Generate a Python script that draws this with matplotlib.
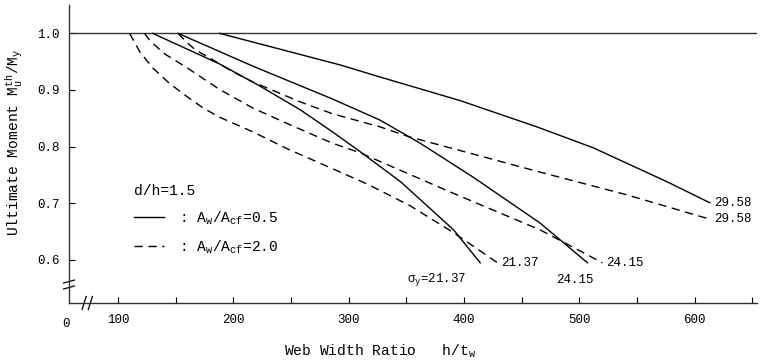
import numpy as np
import matplotlib
matplotlib.use("Agg")
import matplotlib.pyplot as plt
from matplotlib.lines import Line2D

plt.rcParams['font.family'] = ['Liberation Mono', 'DejaVu Sans Mono']
plt.rcParams['mathtext.fontset'] = 'custom'
plt.rcParams['mathtext.rm'] = 'Liberation Mono'
plt.rcParams['mathtext.it'] = 'Liberation Mono'
plt.rcParams['mathtext.default'] = 'regular'

# yield stress labels
sigma = ["21.37", "24.15", "29.58"]

# Aw/Acf = 0.5 (solid)
x_s_2137 = [130, 188, 223, 258, 286, 310, 345, 391, 414]
y_s_2137 = [1.0, 0.946, 0.907, 0.865, 0.826, 0.791, 0.738, 0.653, 0.595]
x_s_2415 = [152, 217, 286, 327, 362, 408, 466, 507]
y_s_2415 = [1.0, 0.942, 0.884, 0.847, 0.806, 0.746, 0.665, 0.595]
x_s_2958 = [188, 293, 327, 397, 463, 512, 544, 576, 613]
y_s_2958 = [1.0, 0.944, 0.923, 0.881, 0.835, 0.798, 0.768, 0.738, 0.701]

# Aw/Acf = 2.0 (dashed)
x_d_2137 = [110, 119, 130, 145, 160, 174, 188, 217, 247, 286, 316, 353, 391, 429]
y_d_2137 = [1.0, 0.967, 0.939, 0.911, 0.888, 0.868, 0.852, 0.826, 0.796, 0.761,
            0.734, 0.696, 0.648, 0.595]
x_d_2415 = [123, 128, 141, 160, 188, 217, 252, 286, 310, 388, 466, 520]
y_d_2415 = [1.0, 0.986, 0.963, 0.939, 0.901, 0.868, 0.836, 0.806, 0.789, 0.720,
            0.653, 0.595]
x_d_2958 = [152, 159, 167, 180, 197, 217, 258, 286, 327, 353, 466, 541, 613]
y_d_2958 = [1.0, 0.985, 0.971, 0.956, 0.935, 0.914, 0.879, 0.858, 0.835, 0.817,
            0.755, 0.715, 0.672]

xticks = [100, 200, 300, 400, 500, 600]
yticks = [0.6, 0.7, 0.8, 0.9, 1.0]

fig = plt.figure(figsize=(7.6, 3.6), dpi=100)
ax = fig.add_axes([69/760, 57/360, 688/760, 298/360])

ax.set_xlim(57.5, 654)
ax.set_ylim(0.524, 1.050)

ax.axhline(1.0, color='#333333', lw=1.0)

solid = [(x_s_2137, y_s_2137), (x_s_2415, y_s_2415), (x_s_2958, y_s_2958)]
dashed = [(x_d_2137, y_d_2137), (x_d_2415, y_d_2415), (x_d_2958, y_d_2958)]

for xs, ys in solid:
    ax.plot(xs, ys, color='black', lw=1.0)
for xs, ys in dashed:
    ax.plot(xs, ys, color='black', lw=1.0, dashes=(6, 4))

# curve end labels
fs = 9
fl = 10.5
ax.text(x_s_2958[-1] + 4, y_s_2958[-1], sigma[2], fontsize=fs, ha='left', va='center')
ax.text(x_d_2958[-1] + 4, y_d_2958[-1], sigma[2], fontsize=fs, ha='left', va='center')
ax.text(x_d_2415[-1] + 3, y_d_2415[-1], sigma[1], fontsize=fs, ha='left', va='center')
ax.text(x_s_2415[-1] - 11, y_s_2415[-1] - 0.031, sigma[1], fontsize=fs, ha='center', va='center')
ax.text(x_d_2137[-1] + 3, y_d_2137[-1], sigma[0], fontsize=fs, ha='left', va='center')
ax.text(x_s_2137[-1] - 38, y_s_2137[-1] - 0.029, r"$\sigma_y$=" + sigma[0], fontsize=fs,
        ha='center', va='center')

# axes styling
for s in ['top', 'right']:
    ax.spines[s].set_visible(False)
for s in ['left', 'bottom']:
    ax.spines[s].set_color('#333333')
    ax.spines[s].set_linewidth(1.0)

ax.set_xticks(np.arange(100, 651, 50))
ax.set_xticklabels([str(v) if v in xticks else '' for v in np.arange(100, 651, 50)])
ax.set_yticks(yticks)
ax.set_yticklabels(["%.1f" % v for v in yticks])
ax.tick_params(axis='x', direction='in', length=4, pad=8, labelsize=fs)
ax.tick_params(axis='y', direction='in', length=4, pad=7, labelsize=fs)
ax.text(55, -0.07, "0", transform=ax.get_xaxis_transform(), fontsize=fs,
        ha='center', va='center')

ax.set_xlabel(r"Web Width Ratio   $h/t_w$", fontsize=fl)
ax.xaxis.set_label_coords(0.452, -0.132)
ax.set_ylabel(r"Ultimate Moment $M_u^{th}/M_y$", fontsize=fl)
ax.yaxis.set_label_coords(-0.062, 0.54)

# axis break marks
ax.plot([0.022, 0.031], [0, 0], transform=ax.transAxes, color='white', lw=3,
        clip_on=False, solid_capstyle='butt')
for xf in [0.022, 0.031]:
    ax.plot([xf - 0.003, xf + 0.003], [-0.022, 0.022], transform=ax.transAxes,
            color='black', lw=0.9, clip_on=False)
ax.plot([0, 0], [0.052, 0.072], transform=ax.transAxes, color='white', lw=3,
        clip_on=False, solid_capstyle='butt')
for yf in [0.052, 0.072]:
    ax.plot([-0.008, 0.008], [yf - 0.005, yf + 0.005], transform=ax.transAxes,
            color='black', lw=0.9, clip_on=False)

handles = [Line2D([], [], color='black', lw=1.0),
           Line2D([], [], color='black', lw=1.0, dashes=(6, 4))]
labels = [r": $A_w/A_{cf}$=0.5", r": $A_w/A_{cf}$=2.0"]
leg = ax.legend(handles, labels, title="d/h=1.5", loc='upper left',
                bbox_to_anchor=(0.075, 0.445), frameon=False, fontsize=fl,
                title_fontsize=fl, handlelength=2.1, handletextpad=1.0,
                labelspacing=0.8, alignment='left')

fig.savefig("out.png", dpi=100)
